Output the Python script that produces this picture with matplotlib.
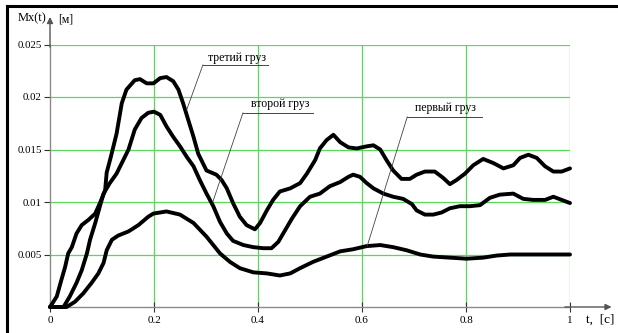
import matplotlib
matplotlib.use("Agg")
import matplotlib.pyplot as plt
from matplotlib.lines import Line2D

plt.rcParams['font.family'] = ['Liberation Serif', 'DejaVu Serif']

# third load (top curve)
t3 = [0, 0.013, 0.022, 0.029, 0.035, 0.042, 0.051, 0.061, 0.074, 0.087,
      0.096, 0.106, 0.109, 0.117, 0.128, 0.138, 0.147, 0.163, 0.173, 0.186,
      0.199, 0.212, 0.224, 0.237, 0.247, 0.256, 0.266, 0.276, 0.285, 0.301,
      0.32, 0.33, 0.34, 0.352, 0.365, 0.378, 0.394, 0.404, 0.417, 0.429,
      0.442, 0.462, 0.481, 0.494, 0.510, 0.519, 0.532, 0.545, 0.558, 0.574,
      0.590, 0.609, 0.622, 0.635, 0.647, 0.660, 0.676, 0.692, 0.705, 0.721,
      0.740, 0.756, 0.769, 0.782, 0.798, 0.814, 0.833, 0.853, 0.872, 0.891,
      0.904, 0.920, 0.936, 0.952, 0.968, 0.984, 1.0]
y3 = [0, 0.0010, 0.0026, 0.0038, 0.0051, 0.0057, 0.0070, 0.0078, 0.0083, 0.0089,
      0.0099, 0.0111, 0.0128, 0.0143, 0.0165, 0.0194, 0.0207, 0.0216, 0.0217, 0.0213,
      0.0213, 0.0218, 0.0219, 0.0215, 0.0207, 0.0194, 0.0178, 0.0162, 0.0146, 0.0130,
      0.0126, 0.0121, 0.0113, 0.0099, 0.0086, 0.0078, 0.0074, 0.0080, 0.0092, 0.0102,
      0.0110, 0.0113, 0.0118, 0.0127, 0.0140, 0.0151, 0.0159, 0.0164, 0.0157, 0.0152,
      0.0151, 0.0153, 0.0154, 0.0150, 0.0140, 0.0130, 0.0122, 0.0122, 0.0126, 0.0129,
      0.0129, 0.0123, 0.0117, 0.0121, 0.0127, 0.0135, 0.0141, 0.0137, 0.0132, 0.0135,
      0.0142, 0.0145, 0.0142, 0.0134, 0.0129, 0.0129, 0.0132]

# second load (middle curve)
t2 = [0, 0.026, 0.038, 0.051, 0.061, 0.071, 0.077, 0.087, 0.096, 0.103,
      0.115, 0.128, 0.141, 0.151, 0.163, 0.176, 0.189, 0.2, 0.212, 0.224,
      0.237, 0.25, 0.263, 0.276, 0.288, 0.301, 0.314, 0.327, 0.34, 0.352,
      0.372, 0.391, 0.410, 0.426, 0.439, 0.452, 0.465, 0.481, 0.5, 0.519,
      0.538, 0.558, 0.574, 0.583, 0.596, 0.609, 0.622, 0.641, 0.660, 0.679,
      0.696, 0.705, 0.721, 0.737, 0.753, 0.769, 0.788, 0.808, 0.827, 0.846,
      0.865, 0.891, 0.910, 0.929, 0.952, 0.968, 0.984, 1.0]
y2 = [0, 0, 0.0010, 0.0023, 0.0035, 0.0051, 0.0064, 0.0080, 0.0096, 0.0108,
      0.0118, 0.0127, 0.0140, 0.0150, 0.0169, 0.0180, 0.0185, 0.0186, 0.0183, 0.0172,
      0.0162, 0.0153, 0.0143, 0.0134, 0.0121, 0.0108, 0.0096, 0.0081, 0.0070, 0.0063,
      0.0059, 0.0057, 0.0056, 0.0056, 0.0062, 0.0073, 0.0084, 0.0096, 0.0105, 0.0108,
      0.0115, 0.0119, 0.0124, 0.0126, 0.0124, 0.0118, 0.0113, 0.0108, 0.0105, 0.0103,
      0.0098, 0.0092, 0.0088, 0.0088, 0.0090, 0.0094, 0.0096, 0.0096, 0.0097, 0.0104,
      0.0107, 0.0108, 0.0103, 0.0102, 0.0102, 0.0105, 0.0102, 0.0099]

# first load (bottom curve)
t1 = [0, 0.032, 0.048, 0.064, 0.080, 0.093, 0.103, 0.109, 0.119, 0.131,
      0.151, 0.170, 0.189, 0.199, 0.224, 0.25, 0.276, 0.301, 0.327, 0.346,
      0.365, 0.391, 0.417, 0.442, 0.462, 0.481, 0.506, 0.532, 0.558, 0.583,
      0.609, 0.635, 0.660, 0.686, 0.712, 0.737, 0.769, 0.801, 0.833, 0.859,
      0.885, 0.917, 0.949, 0.974, 1.0]
y1 = [0, 0, 0.0005, 0.0013, 0.0023, 0.0032, 0.0042, 0.0054, 0.0064, 0.0068,
      0.0072, 0.0078, 0.0086, 0.0089, 0.0091, 0.0088, 0.0080, 0.0067, 0.0051, 0.0043,
      0.0037, 0.0033, 0.0032, 0.0030, 0.0032, 0.0037, 0.0043, 0.0048, 0.0053, 0.0055,
      0.0058, 0.0059, 0.0057, 0.0054, 0.0050, 0.0048, 0.0047, 0.0046, 0.0047, 0.0049,
      0.0050, 0.0050, 0.0050, 0.0050, 0.0050]

x_ticks = [0, 0.2, 0.4, 0.6, 0.8, 1]
x_tick_labels = ["0", "0.2", "0.4", "0.6", "0.8", "1"]
y_ticks = [0.005, 0.01, 0.015, 0.02, 0.025]
y_tick_labels = ["0.005", "0.01", "0.015", "0.02", "0.025"]

labels = ["третий груз", "второй груз", "первый груз"]

W, H = 618, 333
fig = plt.figure(figsize=(W / 100, H / 100), dpi=100)
ax = fig.add_axes([50 / W, 26 / H, 520 / W, 262.5 / H])
ax.set_xlim(0, 1)
ax.set_ylim(0, 0.025)

grid_col = '#5ad85a'
for xv in x_ticks[1:]:
    ax.axvline(xv, color=grid_col, lw=0.9, zorder=1)
for yv in y_ticks:
    ax.axhline(yv, color=grid_col, lw=0.9, zorder=1)

for t, y in [(t3, y3), (t2, y2), (t1, y1)]:
    ax.plot(t, y, color='black', lw=2.8, solid_joinstyle='round',
            solid_capstyle='round', zorder=3, clip_on=False)

for s in ['top', 'right']:
    ax.spines[s].set_visible(False)
for s in ['left', 'bottom']:
    ax.spines[s].set_color('#8a8a8a')
    ax.spines[s].set_linewidth(1.0)

ax.set_xticks(x_ticks)
ax.set_xticklabels(x_tick_labels)
ax.set_yticks(y_ticks)
ax.set_yticklabels(y_tick_labels)
ax.tick_params(axis='x', direction='inout', length=7, width=0.8, color='#333333',
               labelsize=8, pad=3)
ax.tick_params(axis='y', direction='out', length=4, width=0.8, color='#333333',
               labelsize=7.8, pad=2)

# axis arrows
ax.annotate('', xy=(0, 1.105), xytext=(0, 0.99), xycoords='axes fraction',
            arrowprops=dict(arrowstyle='-|>', color='#555555', lw=1.0,
                            mutation_scale=9, shrinkA=0, shrinkB=0))
ax.annotate('', xy=(1.080, 0), xytext=(0.99, 0), xycoords='axes fraction',
            arrowprops=dict(arrowstyle='-|>', color='#555555', lw=1.0,
                            mutation_scale=9, shrinkA=0, shrinkB=0))

fig.text(32 / W, 1 - 18 / H, "Mx(t)", ha='center', va='center', fontsize=9)
fig.text(66 / W, 1 - 19 / H, "[м]", ha='center', va='center', fontsize=8.5)
fig.text(600 / W, 1 - 320 / H, "t,  [c]", ha='center', va='center', fontsize=9.5)

# annotations with leaders
ann = [
    (labels[0], 0.36, 0.0237, 0.294, 0.419, 0.02305, 0.263, 0.0188),
    (labels[1], 0.442, 0.0193, 0.371, 0.506, 0.01848, 0.313, 0.0100),
    (labels[2], 0.76, 0.01895, 0.687, 0.831, 0.0181, 0.61, 0.0058),
]
for txt, tx, ty, ux0, ux1, uy, px, py in ann:
    ax.text(tx, ty, txt, ha='center', va='center', fontsize=8.5, zorder=5)
    ax.plot([ux0, ux1], [uy, uy], color='#444444', lw=0.7, zorder=4)
    ax.plot([ux0, px], [uy, py], color='#444444', lw=0.6, zorder=4)

# outer frame (left and top)
fig.add_artist(Line2D([7 / W, 7 / W], [0, 1 - 6 / H], color='black', lw=2.2))
fig.add_artist(Line2D([7 / W, 1], [1 - 6 / H, 1 - 6 / H], color='black', lw=2.2))

fig.savefig("out.png", dpi=100)
